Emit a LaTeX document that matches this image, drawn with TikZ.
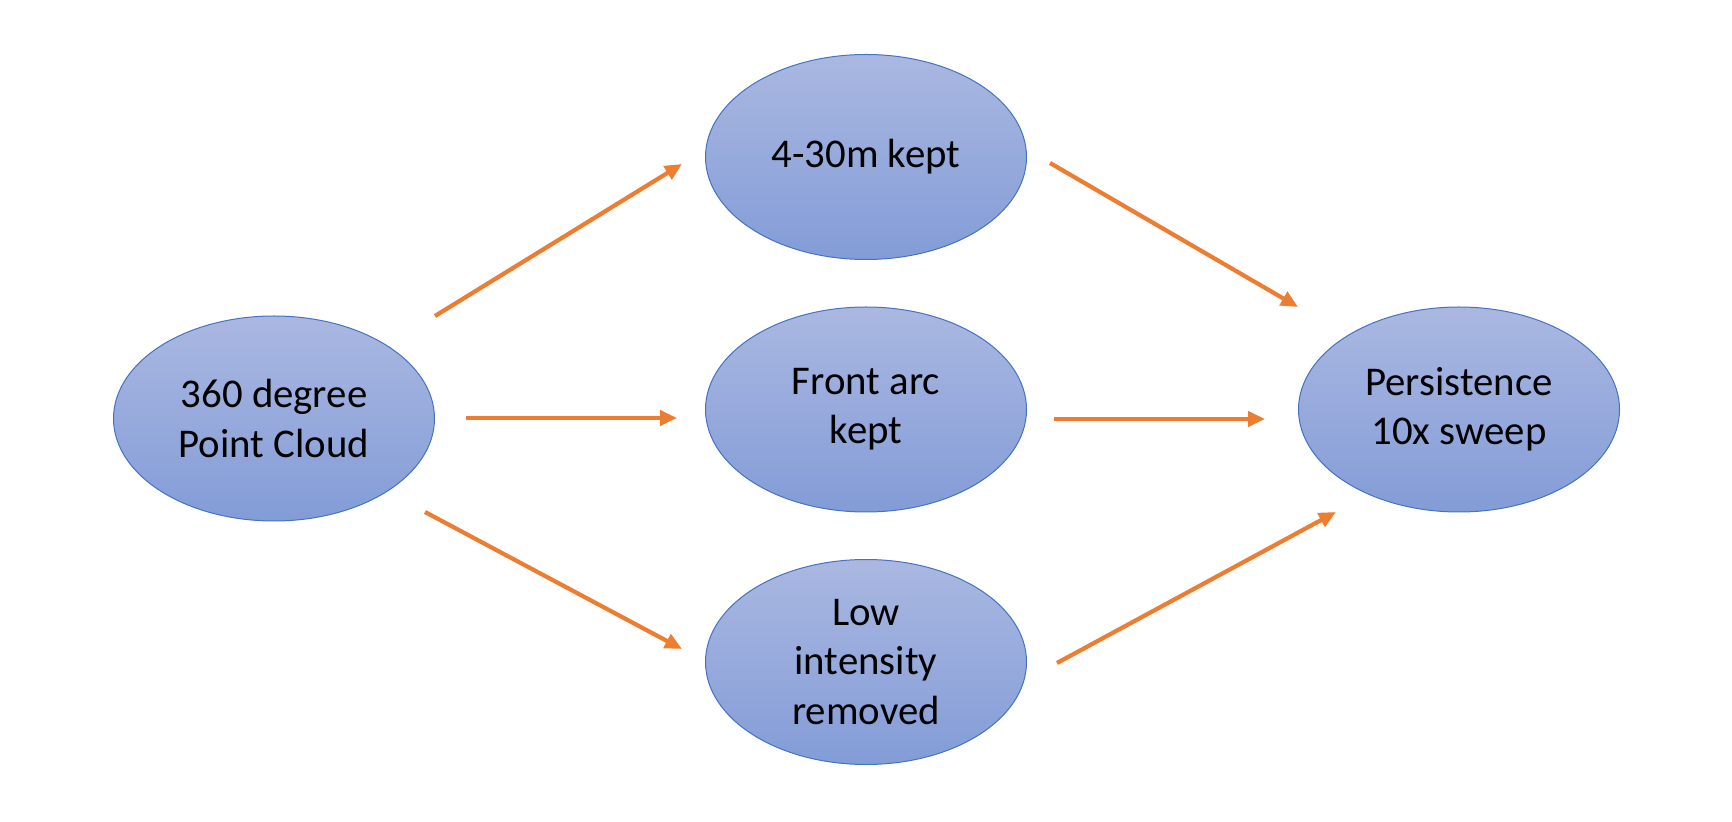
\documentclass[tikz,border=0pt]{standalone}
\usepackage{fontspec}
\setmainfont{Carlito}
\usetikzlibrary{shapes.geometric,arrows.meta}
\definecolor{elltop}{RGB}{170,184,225}
\definecolor{ellbot}{RGB}{131,156,215}
\definecolor{ellline}{RGB}{68,114,196}
\definecolor{arrcol}{RGB}{237,125,49}
\tikzset{
  blob/.style={ellipse, draw=ellline, line width=0.5pt, top color=elltop, bottom color=ellbot,
    minimum width=160.5pt, minimum height=102.5pt, inner sep=0pt, outer sep=0pt,
    align=center, font=\fontsize{20.4}{24.6}\selectfont, text=black},
  flow/.style={draw=arrcol, line width=2.1pt, -{Triangle[length=8.5pt,width=7.5pt]}}
}
\begin{document}
\begin{tikzpicture}[x=0.5pt,y=-0.5pt]
\useasboundingbox[fill=white] (0,0) rectangle (1732,822);
\node[blob] (L) at (274,418.5) {360 degree\\Point Cloud};
\node[blob] (T) at (866,157) {4-30m kept};
\node[blob] (M) at (866,409.5) {Front arc\\kept};
\node[blob] (B) at (866,662) {Low\\intensity\\removed};
\node[blob] (R) at (1459,409.5) {Persistence\\10x sweep};
\draw[flow] ([shift={(0.5,-102.5)}]L.east) -- ([shift={(-23.5,7)}]T.west);
\draw[flow] ([shift={(31.5,-0.5)}]L.east) -- ([shift={(-28.5,8.5)}]M.west);
\draw[flow] ([shift={(-9.5,93.5)}]L.east) -- ([shift={(-23.5,-13)}]B.west);
\draw[flow] ([shift={(23.5,6)}]T.east) -- ([shift={(-0.5,-102.5)}]R.west);
\draw[flow] ([shift={(27.5,9.5)}]M.east) -- ([shift={(-33.5,9.5)}]R.west);
\draw[flow] ([shift={(30.5,1)}]B.east) -- ([shift={(37.5,102.5)}]R.west);
\end{tikzpicture}
\end{document}
